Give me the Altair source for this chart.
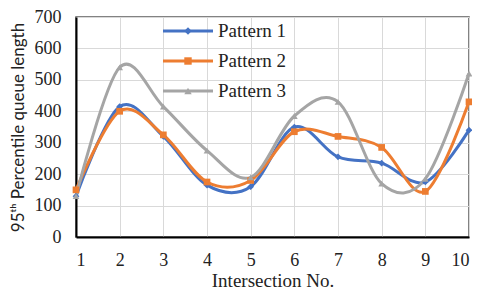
import altair as alt
import pandas as pd

intersections = [1, 2, 3, 4, 5, 6, 7, 8, 9, 10]
pattern1 = [130, 415, 320, 165, 160, 350, 255, 235, 175, 340]
pattern2 = [150, 400, 325, 175, 180, 335, 320, 285, 145, 430]
pattern3 = [130, 540, 415, 275, 190, 385, 430, 170, 185, 520]
y_ticks = [0, 100, 200, 300, 400, 500, 600, 700]
series_names = ["Pattern 1", "Pattern 2", "Pattern 3"]
colors = ["#4472C4", "#ED7D31", "#A5A5A5"]
shapes = ["diamond", "square", "triangle-up"]

rows = []
for name, vals in zip(series_names, [pattern1, pattern2, pattern3]):
    for x, v in zip(intersections, vals):
        rows.append({"Intersection": x, "value": v, "series": name})
df = pd.DataFrame(rows)

FONT = "Liberation Serif"
W, H = 393, 220

x_enc = alt.X("Intersection:Q",
              scale=alt.Scale(domain=[1, 10], nice=False),
              axis=alt.Axis(title="Intersection No.", values=intersections,
                            grid=True, gridColor="#d9d9d9", gridWidth=1,
                            domainColor="#000000", domainWidth=2, ticks=False,
                            labelFont=FONT, labelFontSize=18, labelColor="#222",
                            labelPadding=14, labelOverlap=False,
                            titleFont=FONT, titleFontSize=19,
                            titleFontWeight="normal", titleColor="#222",
                            titleBaseline="alphabetic", titleY=49))
y_enc = alt.Y("value:Q",
              scale=alt.Scale(domain=[0, 700], nice=False),
              axis=alt.Axis(title="95ᵗʰ Percentile queue length", values=y_ticks,
                            grid=True, gridColor="#d9d9d9", gridWidth=1,
                            domainColor="#000000", domainWidth=2, ticks=False,
                            labelFont=FONT, labelFontSize=18, labelColor="#222",
                            labelPadding=15, labelOverlap=False,
                            titleFont="Lato", titleFontSize=17,
                            titleFontWeight="normal", titleColor="#222",
                            titleAngle=270, titleBaseline="top", titleAlign="center",
                            titleX=-66, titleY=H / 2))
color_enc = alt.Color("series:N", scale=alt.Scale(domain=series_names, range=colors), legend=None)
shape_enc = alt.Shape("series:N", scale=alt.Scale(domain=series_names, range=shapes), legend=None)

base = alt.Chart(df)
lines = base.mark_line(interpolate="cardinal", strokeWidth=3).encode(x=x_enc, y=y_enc, color=color_enc, detail="series:N")
points = base.mark_point(filled=True, size=45, opacity=1).encode(x=x_enc, y=y_enc, color=color_enc, shape=shape_enc)

legend_layers = []
ys = [14, 44, 74]
for name, col, shp, yy in zip(series_names, colors, shapes, ys):
    ldf = pd.DataFrame({"label": [name]})
    lc = alt.Chart(ldf)
    legend_layers.append(lc.mark_rule(color=col, strokeWidth=3).encode(
        x=alt.value(87), x2=alt.value(137), y=alt.value(yy)))
    legend_layers.append(lc.mark_point(filled=True, size=55, color=col, opacity=1, shape=shp).encode(
        x=alt.value(112), y=alt.value(yy)))
    legend_layers.append(lc.mark_text(align="left", baseline="middle", font=FONT, fontSize=19, color="#222").encode(
        x=alt.value(142), y=alt.value(yy), text="label:N"))

chart = alt.layer(lines, points, *legend_layers).properties(
    width=W, height=H,
    background="white",
    autosize=alt.AutoSizeParams(type="none"),
    padding={"left": 68, "top": 9, "right": 3, "bottom": 54},
).configure_view(stroke="#595959", strokeWidth=1.5)

chart.save("out.html", embed_options={"renderer": "svg", "actions": False})
